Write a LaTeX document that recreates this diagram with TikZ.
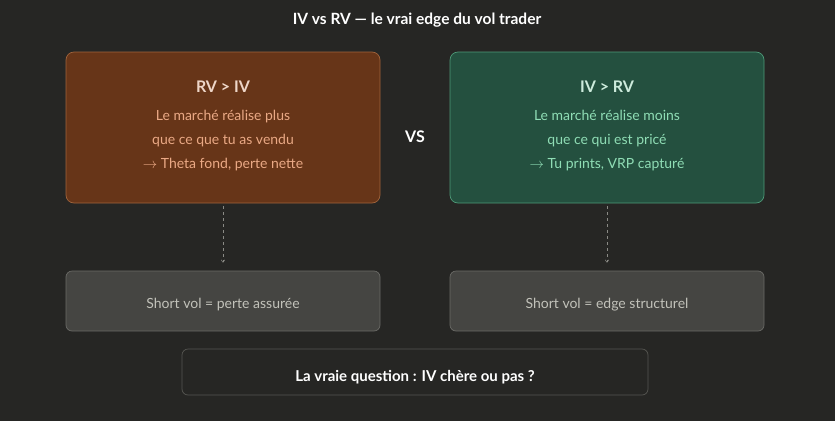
\documentclass[tikz,border=0pt]{standalone}
\usepackage{fontspec}
\setmainfont{Lato}
\usetikzlibrary{positioning,arrows.meta}
\definecolor{bgdark}{HTML}{262624}
\definecolor{brownfill}{HTML}{673518}
\definecolor{brownline}{HTML}{A0643C}
\definecolor{browntext}{HTML}{EAA985}
\definecolor{browntitle}{HTML}{EED6C8}
\definecolor{greenfill}{HTML}{24503F}
\definecolor{greenline}{HTML}{4E9A78}
\definecolor{greentext}{HTML}{8FDDB5}
\definecolor{greentitle}{HTML}{CDEBDC}
\definecolor{grayfill}{HTML}{454542}
\definecolor{grayline}{HTML}{6A6A66}
\definecolor{graytext}{HTML}{C2C2BA}
\definecolor{dashgray}{HTML}{8A8A85}

\begin{document}
\begin{tikzpicture}[x=1pt,y=-1pt,
  card/.style={draw,rounded corners=8pt,line width=0.7pt,minimum width=314pt,minimum height=151pt,align=center},
  result/.style={draw=grayline,fill=grayfill,rounded corners=6pt,line width=0.7pt,minimum width=314pt,minimum height=60pt},
  outtext/.style={text=graytext,font=\fontsize{14}{16}\selectfont},
  link/.style={dashed,dashgray,line width=0.5pt,-{To[length=3pt,width=4pt,open]}}]
  % background
  \fill[bgdark] (0,0) rectangle (835,421);
  \useasboundingbox (0,0) rectangle (835,421);

  % title
  \node[text=white,font=\bfseries\fontsize{15.5}{18}\selectfont] (title) at (417,20) {IV vs RV --- le vrai edge du vol trader};

  % the two regimes
  \node[card,fill=brownfill,draw=brownline] (rv) at (223,127.5) {};
  \node[text=browntitle,font=\bfseries\fontsize{16}{18}\selectfont] (rvtitle) at (223,87) {RV > IV};
  \node[text=browntext,align=center,font=\fontsize{14}{24}\selectfont] (rvtext) at (223,141) {Le marché réalise plus\\que ce que tu as vendu\\$\rightarrow$ Theta fond, perte nette};

  \node[card,fill=greenfill,draw=greenline] (iv) at (607,127.5) {};
  \node[text=greentitle,font=\bfseries\fontsize{16}{18}\selectfont] (ivtitle) at (607,87) {IV > RV};
  \node[text=greentext,align=center,font=\fontsize{14}{24}\selectfont] (ivtext) at (607,141) {Le marché réalise moins\\que ce qui est pricé\\$\rightarrow$ Tu prints, VRP capturé};

  \node[text=white,font=\bfseries\fontsize{16}{18}\selectfont] (vs) at (415,137) {VS};

  % outcomes
  \node[result] (rvout) at (223,301) {};
  \node[result] (ivout) at (607,301) {};
  \node[outtext] (rvlbl) at (223,305) {Short vol = perte assurée};
  \node[outtext] (ivlbl) at (607,305) {Short vol = edge structurel};
  \draw[link] ([yshift=-3pt]rv.south) -- ([yshift=8pt]rvout.north);
  \draw[link] ([yshift=-3pt]iv.south) -- ([yshift=8pt]ivout.north);

  % question
  \node[draw=grayline!70!bgdark,fill=bgdark,rounded corners=6pt,line width=0.7pt,minimum width=466pt,minimum height=46pt] (question) at (415,372) {};
  \node[text=white,font=\bfseries\fontsize{15}{17}\selectfont] (qlbl) at (415,377) {La vraie question : IV chère ou pas ?};
\end{tikzpicture}
\end{document}
